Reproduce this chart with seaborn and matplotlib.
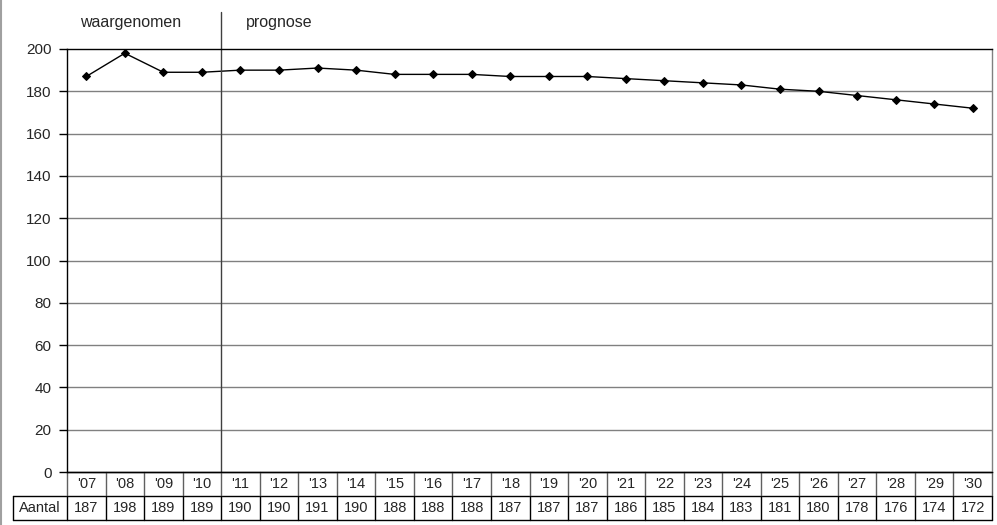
import numpy as np
import pandas as pd
import matplotlib
matplotlib.use("Agg")
import matplotlib.pyplot as plt
import seaborn as sns
from matplotlib.lines import Line2D

years = ["'07", "'08", "'09", "'10", "'11", "'12", "'13", "'14", "'15", "'16", "'17", "'18",
         "'19", "'20", "'21", "'22", "'23", "'24", "'25", "'26", "'27", "'28", "'29", "'30"]
aantal = [187, 198, 189, 189, 190, 190, 191, 190, 188, 188, 188, 187,
          187, 187, 186, 185, 184, 183, 181, 180, 178, 176, 174, 172]
y_ticks = [0, 20, 40, 60, 80, 100, 120, 140, 160, 180, 200]
row_label = "Aantal"
observed_label = "waargenomen"
forecast_label = "prognose"
n_observed = 4

df = pd.DataFrame({"pos": np.arange(len(years)), "aantal": aantal})

sns.set_style("white")
plt.rcParams["font.family"] = ["Liberation Sans", "DejaVu Sans"]

fig = plt.figure(figsize=(9.97, 5.25), dpi=100)
ax = fig.add_axes([67 / 997, 53 / 525, 925 / 997, 423 / 525])

sns.lineplot(data=df, x="pos", y="aantal", ax=ax, color="black", linewidth=1,
             marker="D", markersize=4, markeredgecolor="black")

ax.set_xlim(-0.5, len(years) - 0.5)
ax.set_ylim(0, 200)
ax.set_yticks(y_ticks)
ax.set_yticklabels([str(t) for t in y_ticks], fontsize=11)
ax.set_xticks([])
ax.set_xlabel("")
ax.set_ylabel("")
ax.tick_params(axis="y", left=True, length=6, width=1, color="black", pad=5)
for t in y_ticks[1:-1]:
    ax.axhline(t, color="#808080", linewidth=1, zorder=0)

ax.spines["top"].set_color("black")
ax.spines["left"].set_color("black")
ax.spines["right"].set_color("#808080")
ax.spines["bottom"].set_color("black")
for s in ax.spines.values():
    s.set_linewidth(1)

# divider between observed and forecast
split = n_observed - 0.5
ax.axvline(split, ymin=0, ymax=(472 - 12) / 423, color="#404040", linewidth=1, clip_on=False)
ax.text((n_observed - 1) / 2 - 0.35, (472 - 23) / 423, observed_label, transform=ax.get_xaxis_transform(),
        ha="center", va="center", fontsize=11.5)
ax.text(5.0, (472 - 23) / 423, forecast_label, transform=ax.get_xaxis_transform(),
        ha="center", va="center", fontsize=11.5)

# data table below the axes
tr = ax.get_xaxis_transform()
r1 = -(496 - 472) / 423
r2 = -(520 - 472) / 423
left_cell = -0.5 - (67 - 13) / (925 / len(years))
xmax = len(years) - 0.5
ax.plot([-0.5, xmax], [0, 0], color="black", lw=1, transform=tr, clip_on=False)
ax.plot([left_cell, xmax], [r1, r1], color="black", lw=1, transform=tr, clip_on=False)
ax.plot([left_cell, xmax], [r2, r2], color="black", lw=1, transform=tr, clip_on=False)
ax.plot([left_cell, left_cell], [r1, r2], color="black", lw=1, transform=tr, clip_on=False)
for i in range(len(years) + 1):
    xb = i - 0.5
    ax.plot([xb, xb], [0, r1], color="#606060", lw=1, transform=tr, clip_on=False)
    ax.plot([xb, xb], [r1, r2], color="black", lw=1, transform=tr, clip_on=False)
for i, (yr, v) in enumerate(zip(years, aantal)):
    ax.text(i, r1 / 2, yr, transform=tr, ha="center", va="center", fontsize=10.5)
    ax.text(i, (r1 + r2) / 2, str(v), transform=tr, ha="center", va="center", fontsize=10.5)
ax.text((left_cell - 0.5) / 2, (r1 + r2) / 2, row_label, transform=tr,
        ha="center", va="center", fontsize=10.5)

fig.add_artist(Line2D([1 / 997, 1 / 997], [0, 1], color="#a0a0a0", linewidth=1.5))

fig.savefig("out.png", dpi=100)
